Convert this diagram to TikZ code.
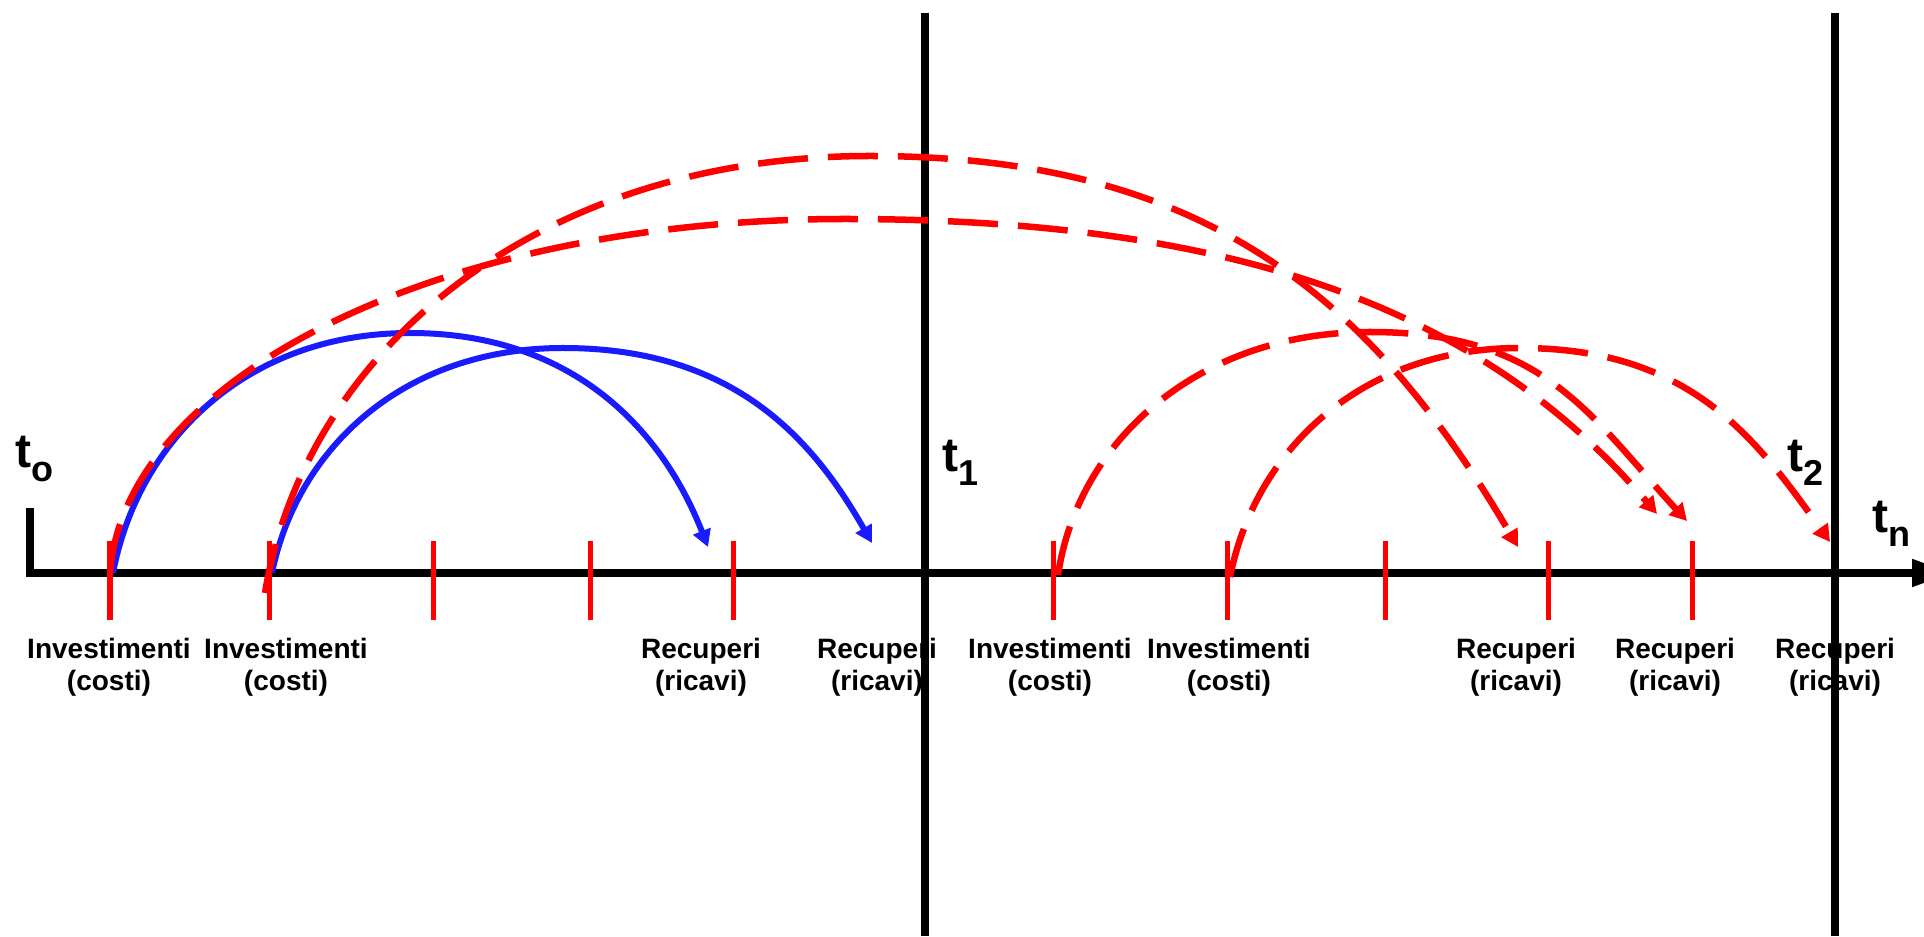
\documentclass[tikz,border=0pt]{standalone}
\usepackage{fontspec}
\setmainfont{Liberation Sans}
\usetikzlibrary{arrows.meta}
\definecolor{arcblue}{RGB}{26,26,255}
\newcommand{\tlab}[1]{{\fontsize{13.66}{14}\selectfont t}\raisebox{-3.7pt}{\fontsize{10.24}{11}\selectfont #1}}

\begin{document}
\begin{tikzpicture}[x=0.01cm,y=0.01cm,font=\bfseries,
  axis/.style={line width=0.08cm},
  tick/.style={red,line width=0.05cm},
  solidarc/.style={arcblue,line width=0.06cm,-{Triangle[length=0.17cm,width=0.18cm]}},
  dasharc/.style={red,line width=0.065cm,dash pattern=on 0.5cm off 0.2cm,-{Triangle[length=0.17cm,width=0.18cm]}},
  lab/.style={align=center,anchor=north,inner sep=0pt,font=\bfseries\fontsize{7.97}{9.25}\selectfont}]
\useasboundingbox (0,0) rectangle (1924,936);

% labels under the axis
\node[lab] (inv1) at (109,299) {Investimenti\\(costi)};
\node[lab] (inv2) at (286,299) {Investimenti\\(costi)};
\node[lab] (rec1) at (701,299) {Recuperi\\(ricavi)};
\node[lab] (rec2) at (877,299) {Recuperi\\(ricavi)};
\node[lab] (inv3) at (1050,299) {Investimenti\\(costi)};
\node[lab] (inv4) at (1229,299) {Investimenti\\(costi)};
\node[lab] (rec3) at (1516,299) {Recuperi\\(ricavi)};
\node[lab] (rec4) at (1675,299) {Recuperi\\(ricavi)};
\node[lab] (rec5) at (1835,299) {Recuperi\\(ricavi)};

\node[anchor=base west,inner sep=0pt] (t0) at (15,468) {\tlab{o}};
\node[anchor=base west,inner sep=0pt] (t1) at (942,464) {\tlab{1}};
\node[anchor=base west,inner sep=0pt] (t2) at (1787,464) {\tlab{2}};
\node[anchor=base west,inner sep=0pt] (tn) at (1872,403) {\tlab{n}};

% time axis and period limits
\coordinate (ax0) at (30,428);
\coordinate (axn) at (1952,363);
\coordinate (l1top) at (925,923);
\coordinate (l1bot) at (925,0);
\coordinate (l2top) at (1835,923);
\coordinate (l2bot) at (1835,0);
\draw[axis] (l1top) -- (l1bot);
\draw[axis] (l2top) -- (l2bot);
\draw[axis,-{Triangle[length=0.4cm,width=0.26cm]}] (ax0) |- (axn);

\foreach \x in {110,269,433,590,733,1053,1227,1385,1548,1692}
  \draw[tick] (\x,316) -- (\x,395);

% blue: investments recovered in the same period
\coordinate (bs1) at (113,363);
\coordinate (be1) at (708,389);
\coordinate (bs2) at (272,363);
\coordinate (be2) at (872,393);
\draw[solidarc] (bs1) .. controls +(25,132) and +(-164,0) .. (410,603) .. controls +(165,0) and +(-45,115) .. (be1);
\draw[solidarc] (bs2) .. controls +(25,124) and +(-160,0) .. (563,588) .. controls +(170,0) and +(-60,105) .. (be2);

% red: recovered in a later period
\coordinate (rs1) at (110,363);
\coordinate (re1) at (1657,422);
\coordinate (rs2) at (265,343);
\coordinate (re2) at (1518,389);
\coordinate (rs3) at (1058,361);
\coordinate (re3) at (1687,415);
\coordinate (rs4) at (1230,359);
\coordinate (re4) at (1830,394);
\draw[dasharc] (rs1) .. controls +(15,195) and +(-406,0) .. (845,717) .. controls +(400,0) and +(-170,200) .. (re1);
\draw[dasharc] (rs2) .. controls +(40,241) and +(-334,0) .. (870,780) .. controls +(330,0) and +(-150,255) .. (re2);
\draw[dasharc] (rs3) .. controls +(20,134) and +(-172,0) .. (1370,604) .. controls +(175,0) and +(-97,105) .. (re3);
\draw[dasharc] (rs4) .. controls +(25,126) and +(-160,0) .. (1520,588) .. controls +(170,0) and +(-75,105) .. (re4);
\end{tikzpicture}
\end{document}
